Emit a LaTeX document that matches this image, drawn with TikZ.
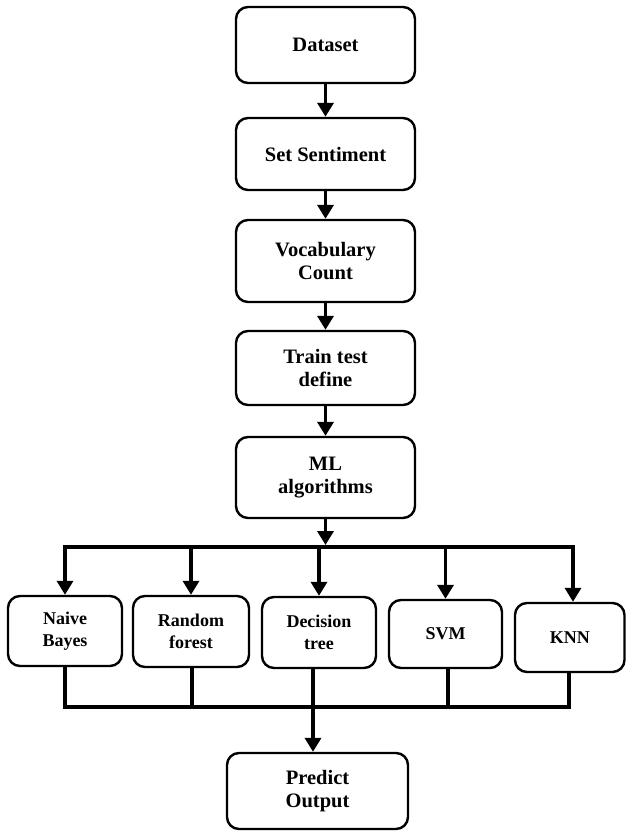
\documentclass[tikz,border=0pt]{standalone}
\usepackage{fontspec}
\setmainfont{Liberation Serif}
\usetikzlibrary{arrows.meta}
\tikzset{
  box/.style={draw, rounded corners=12pt, line width=2.4pt, align=center, inner sep=0pt,
    font=\bfseries\fontsize{20.5}{23.5}\selectfont},
  sbox/.style={box, font=\bfseries\fontsize{18}{21.5}\selectfont},
  conn/.style={line width=3.6pt},
  arr/.style={conn, -{Triangle[length=14pt,width=16pt]}}
}
\begin{document}
\begin{tikzpicture}[x=1pt,y=-1pt]
\useasboundingbox (0,0) rectangle (626,831);
% main column
\node[box, minimum width=179pt, minimum height=76pt] (d) at (325.5,45) {Dataset};
\node[box, minimum width=179pt, minimum height=72pt] (s) at (325.5,154) {Set Sentiment};
\node[box, minimum width=179pt, minimum height=82pt] (v) at (325.5,261) {Vocabulary\\Count};
\node[box, minimum width=179pt, minimum height=74pt] (t) at (325.5,368) {Train test\\define};
\node[box, minimum width=179pt, minimum height=81pt] (m) at (325.5,477.5) {ML\\algorithms};
% algorithm row
\node[sbox, minimum width=114pt, minimum height=70pt] (nb) at (65,631) {Naive\\Bayes};
\node[sbox, minimum width=116pt, minimum height=71pt] (rf) at (191,631.5) {Random\\forest};
\node[sbox, minimum width=114pt, minimum height=71pt] (dt) at (319,632.5) {Decision\\tree};
\node[sbox, minimum width=113pt, minimum height=68pt] (svm) at (445.5,634) {SVM};
\node[sbox, minimum width=109.5pt, minimum height=69pt] (knn) at (569.75,637.5) {KNN};
% output
\node[box, minimum width=181pt, minimum height=76pt] (p) at (317.5,791) {Predict\\Output};
% coordinates for the bus lines
\coordinate (tl) at (65,547);
\coordinate (tr) at (573,547);
\coordinate (bl) at (65,707);
\coordinate (br) at (569,707);
% main arrows
\draw[arr] (d) -- (s);
\draw[arr] (s) -- (v);
\draw[arr] (v) -- (t);
\draw[arr] (t) -- (m);
\draw[arr] (m.south) -- ([yshift=2pt]m.south |- tl);
% top bus
\draw[conn, line cap=rect] (tl) -- (tr);
\draw[arr] (tl) -- (nb.north);
\draw[arr] (rf.north |- tl) -- (rf.north);
\draw[arr] (dt.north |- tl) -- (dt.north);
\draw[arr] (svm.north |- tl) -- (svm.north);
\draw[arr] (tr) -- (tr |- knn.north);
% bottom bus
\draw[conn, line join=miter] (nb.south) -- (bl) -- (br) -- (br |- knn.south);
\draw[conn] ([xshift=1pt]rf.south) -- ([xshift=1pt]rf.south |- bl);
\draw[conn] ([xshift=2.5pt]svm.south) -- ([xshift=2.5pt]svm.south |- bl);
\draw[arr] ([xshift=-6pt]dt.south) -- ([xshift=-6pt]dt.south |- p.north);
\end{tikzpicture}
\end{document}
